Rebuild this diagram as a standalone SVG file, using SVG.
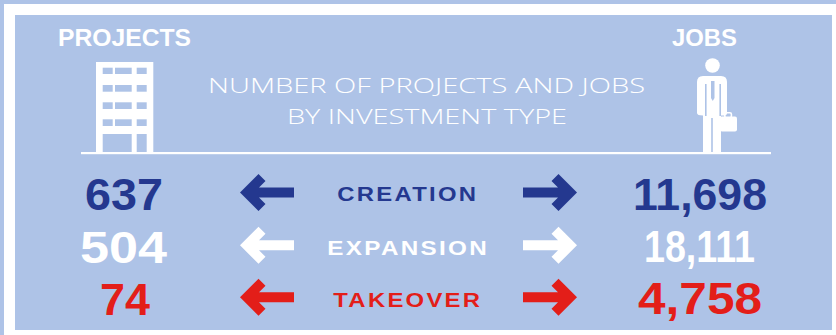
<svg xmlns="http://www.w3.org/2000/svg" width="836" height="335" viewBox="0 0 836 335">
<defs>
<style>
.bg{fill:#aec3e7}
.w{fill:#ffffff}
.head{font-family:"Liberation Sans",Arial,sans-serif;font-weight:700;fill:#ffffff}
.title{font-family:"Open Sans","Liberation Sans",sans-serif;font-weight:300;fill:#ffffff;font-size:21px}
.num{font-family:"Liberation Sans",Arial,sans-serif;font-weight:700;font-size:44px}
.lbl{font-family:"Liberation Sans",Arial,sans-serif;font-weight:700;font-size:21px;letter-spacing:2px}
.navy{fill:#24388f}
.red{fill:#e31e19}
.white{fill:#ffffff}
</style>
<path id="arrowL" d="M240,0 L258.5,-18.5 L265.5,-11.5 L259,-5 L294,-5 L294,5 L259,5 L265.5,11.5 L258.5,18.5 Z"/>
</defs>
<rect x="0" y="0" width="836" height="335" class="bg"/>
<rect x="4" y="4" width="832" height="331" class="w"/>
<rect x="15" y="15" width="817" height="315" class="bg"/>

<g id="header-projects">
<text x="58" y="46" class="head" font-size="23" textLength="133" lengthAdjust="spacingAndGlyphs">PROJECTS</text>
<rect x="96" y="62" width="57.3" height="91" class="w"/>
<g class="bg">
<rect x="102.7" y="67.7" width="10" height="6.3"/><rect x="115" y="67.7" width="16.7" height="6.3"/><rect x="136.7" y="67.7" width="10" height="6.3"/>
<rect x="102.7" y="85" width="10" height="6.7"/><rect x="115" y="85" width="16.7" height="6.7"/><rect x="136.7" y="85" width="10" height="6.7"/>
<rect x="102.7" y="102.3" width="10" height="6.7"/><rect x="115" y="102.3" width="16.7" height="6.7"/><rect x="136.7" y="102.3" width="10" height="6.7"/>
<rect x="102.7" y="119.3" width="10" height="6.7"/><rect x="115" y="119.3" width="16.7" height="6.7"/><rect x="136.7" y="119.3" width="10" height="6.7"/>
<rect x="102.7" y="134" width="29" height="18"/><rect x="136.7" y="134" width="10" height="18"/>
</g>
</g>

<g id="ground">
<rect x="81" y="152" width="690" height="2.2" class="w"/>
</g>

<g id="title">
<text x="426.5" y="93" class="title" text-anchor="middle" textLength="437" lengthAdjust="spacingAndGlyphs">NUMBER OF PROJECTS AND JOBS</text>
<text x="427" y="124" class="title" text-anchor="middle" textLength="280" lengthAdjust="spacingAndGlyphs">BY INVESTMENT TYPE</text>
</g>

<g id="header-jobs">
<text x="672" y="46" class="head" font-size="23" textLength="65" lengthAdjust="spacingAndGlyphs">JOBS</text>
<circle cx="712.5" cy="65.5" r="7.3" class="w"/>
<path class="w" d="M697,113 L697,82 Q697,76 703,76 L721,76 Q727,76 727,82 L727,113 Q727,115.5 724,115.5 L703,115.5 Q697,115.5 697,113 Z"/>
<rect x="703" y="108" width="18" height="44" class="w"/>
<g fill="none" stroke="#aec3e7" stroke-width="1.6">
<line x1="705.8" y1="84" x2="705.8" y2="116"/>
<line x1="720.2" y1="84" x2="720.2" y2="116"/>
<line x1="712" y1="118" x2="712" y2="152"/>
</g>
<polygon points="711,81 714.5,81 714.5,98 712.75,101 711,98" class="bg"/>
<rect x="720" y="116.5" width="17" height="15" rx="2" class="w"/>
<rect x="724.8" y="112.8" width="6.6" height="5" rx="1.5" fill="none" stroke="#ffffff" stroke-width="1.6"/>
</g>

<g id="row-creation">
<text x="124" y="210" class="num navy" text-anchor="middle" textLength="78" lengthAdjust="spacingAndGlyphs">637</text>
<text x="337.3" y="201.3" class="lbl navy" textLength="141" lengthAdjust="spacingAndGlyphs">CREATION</text>
<text x="700" y="210" class="num navy" text-anchor="middle" textLength="134" lengthAdjust="spacingAndGlyphs">11,698</text>
</g>
<g id="row-expansion">
<text x="123.5" y="262.7" class="num white" text-anchor="middle" textLength="87" lengthAdjust="spacingAndGlyphs">504</text>
<text x="327.3" y="255" class="lbl white" textLength="161.7" lengthAdjust="spacingAndGlyphs">EXPANSION</text>
<text x="699.5" y="262" class="num white" text-anchor="middle" textLength="111" lengthAdjust="spacingAndGlyphs">18,111</text>
</g>
<g id="row-takeover">
<text x="125" y="315" class="num red" text-anchor="middle" textLength="50" lengthAdjust="spacingAndGlyphs">74</text>
<text x="333.3" y="306.7" class="lbl red" textLength="149" lengthAdjust="spacingAndGlyphs">TAKEOVER</text>
<text x="700" y="314" class="num red" text-anchor="middle" textLength="124" lengthAdjust="spacingAndGlyphs">4,758</text>
</g>

<g id="connectors">
<use href="#arrowL" transform="translate(0,192.5)" class="navy"/>
<use href="#arrowL" transform="translate(817,192.5) scale(-1,1)" class="navy"/>
<use href="#arrowL" transform="translate(0,245.3)" class="white"/>
<use href="#arrowL" transform="translate(817,245.3) scale(-1,1)" class="white"/>
<use href="#arrowL" transform="translate(0,297.2)" class="red"/>
<use href="#arrowL" transform="translate(817,297.2) scale(-1,1)" class="red"/>
</g>
</svg>
